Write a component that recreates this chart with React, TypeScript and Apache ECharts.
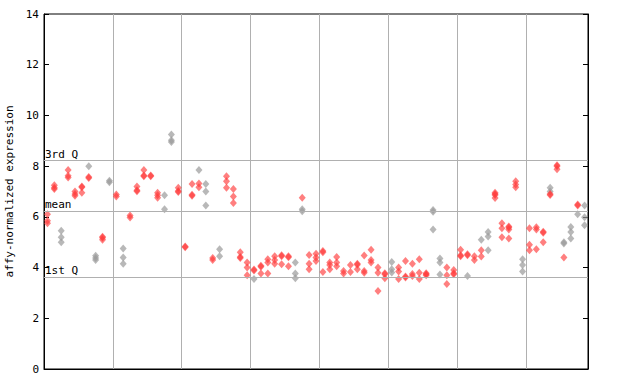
import React, { useEffect, useRef } from "react";
import * as echarts from "echarts";

// 79 samples (x categories), grouped 10 per gridline band
const sampleCount = 79;
const categories = Array.from({ length: sampleCount }, (_, i) => "S" + (i + 1));

// [sample index, expression] — red markers
const redPoints: [number, number][] = [
  [0, 6.1], [0, 5.85], [0, 5.75],
  [1, 7.25], [1, 7.15], [1, 7.1],
  [3, 7.85], [3, 7.62], [3, 7.55],
  [4, 7.0], [4, 6.9], [4, 6.83],
  [5, 7.2], [5, 7.17], [5, 6.95],
  [6, 7.57], [6, 7.53],
  [8, 5.22], [8, 5.18], [8, 5.1],
  [10, 6.88], [10, 6.8],
  [12, 6.05], [12, 5.97],
  [13, 7.2], [13, 7.05], [13, 7.01],
  [14, 7.85], [14, 7.63], [14, 7.6],
  [15, 7.63], [15, 7.6],
  [16, 6.95], [16, 6.85], [16, 6.75],
  [19, 7.15], [19, 7.02], [19, 6.98],
  [20, 4.83], [20, 4.8],
  [21, 7.3], [21, 6.87], [21, 6.83],
  [22, 7.32], [22, 7.17],
  [24, 4.38], [24, 4.3],
  [26, 7.6], [26, 7.4], [26, 7.15],
  [27, 7.1], [27, 6.8], [27, 6.55],
  [28, 4.6], [28, 4.42], [28, 4.38],
  [29, 4.2], [29, 4.0], [29, 3.7],
  [30, 3.92], [30, 3.88],
  [31, 4.07], [31, 4.03], [31, 3.77],
  [32, 4.33], [32, 4.2], [32, 3.77],
  [33, 4.45], [33, 4.3], [33, 4.15],
  [34, 4.49], [34, 4.45], [34, 4.13],
  [35, 4.45], [35, 4.41], [35, 4.05],
  [37, 6.75],
  [38, 4.5], [38, 4.15], [38, 3.93],
  [39, 4.55], [39, 4.4], [39, 4.26],
  [40, 4.65], [40, 4.6], [40, 3.83],
  [41, 4.2], [41, 4.1], [41, 3.93],
  [42, 4.42], [42, 4.2], [42, 4.05],
  [43, 3.86], [43, 3.77],
  [44, 4.1], [44, 3.83],
  [45, 4.15], [45, 4.11], [45, 3.93],
  [46, 4.48], [46, 3.86], [46, 3.8],
  [47, 4.7], [47, 4.3], [47, 4.2],
  [48, 4.0], [48, 3.8], [48, 3.08],
  [49, 3.78], [49, 3.74], [49, 3.58],
  [51, 4.0], [51, 3.85], [51, 3.55],
  [52, 4.26], [52, 3.65], [52, 3.61],
  [53, 4.15], [53, 3.75], [53, 3.67],
  [54, 4.33], [54, 3.8], [54, 3.55],
  [55, 3.78], [55, 3.74], [55, 3.7],
  [58, 4.0], [58, 3.7], [58, 3.35],
  [59, 3.9], [59, 3.78], [59, 3.74],
  [60, 4.7], [60, 4.49], [60, 4.45],
  [61, 4.53], [61, 4.49],
  [62, 4.45], [62, 4.3],
  [63, 4.68], [63, 4.44],
  [65, 6.95], [65, 6.9], [65, 6.86], [65, 6.74],
  [66, 5.75], [66, 5.55], [66, 5.2],
  [67, 5.62], [67, 5.58], [67, 5.5], [67, 5.15],
  [68, 7.4], [68, 7.28], [68, 7.17],
  [70, 5.55], [70, 4.9], [70, 4.68],
  [71, 5.59], [71, 5.5], [71, 4.72],
  [72, 5.41], [72, 5.37], [72, 5.0],
  [73, 6.9], [73, 6.86],
  [74, 8.04], [74, 8.0], [74, 7.88],
  [75, 4.4],
  [77, 6.49], [77, 6.45],
];

// [sample index, expression] — grey markers
const greyPoints: [number, number][] = [
  [2, 5.45], [2, 5.2], [2, 5.0],
  [6, 8.0],
  [7, 4.47], [7, 4.38], [7, 4.3],
  [9, 7.42], [9, 7.36],
  [11, 4.75], [11, 4.4], [11, 4.15],
  [17, 6.85], [17, 6.3],
  [18, 9.25], [18, 9.02], [18, 8.95],
  [22, 7.85],
  [23, 7.3], [23, 7.0], [23, 6.45],
  [25, 4.72], [25, 4.45],
  [30, 3.55],
  [36, 4.2], [36, 3.77], [36, 3.58],
  [37, 6.3], [37, 6.22],
  [50, 4.22], [50, 3.93], [50, 3.81],
  [56, 6.27], [56, 6.2], [56, 5.5],
  [57, 4.36], [57, 4.2], [57, 3.73],
  [61, 3.67],
  [63, 5.1],
  [64, 5.4], [64, 5.23], [64, 4.68],
  [69, 4.33], [69, 4.1], [69, 3.85],
  [73, 7.15], [73, 7.0],
  [75, 5.0], [75, 4.95],
  [76, 5.6], [76, 5.4], [76, 5.15],
  [77, 6.1],
  [78, 6.45], [78, 5.98], [78, 5.67],
];

const quartileLabels = ["3rd Q", "mean", "1st Q"];
const quartileValues = [8.22, 6.22, 3.62];

const yTicks = { min: 0, max: 14, interval: 2 };

export default function App() {
  const ref = useRef<HTMLDivElement>(null);
  useEffect(() => {
    document.body.style.margin = "0";
    if (!ref.current) return;
    const chart = echarts.init(ref.current, undefined, { renderer: "svg" });
    const mono = "DejaVu Sans Mono";
    chart.setOption({
      animation: false,
      backgroundColor: "#ffffff",
      grid: {
        left: 44,
        right: 52,
        top: 14,
        bottom: 15,
        containLabel: false,
        outerBoundsMode: "none",
        show: true,
        borderColor: "#000000",
        borderWidth: 1,
        backgroundColor: "transparent",
      },
      xAxis: {
        type: "category",
        data: categories,
        boundaryGap: true,
        axisLine: { show: true, lineStyle: { color: "#000" } },
        axisTick: { show: false },
        axisLabel: { show: false },
        splitLine: {
          show: true,
          interval: (i: number) => i > 0 && i % 10 === 0,
          lineStyle: { color: "#b0b0b0", width: 1 },
        },
      },
      yAxis: [
        {
          type: "value",
          ...yTicks,
          name: "affy-normalized expression",
          nameLocation: "middle",
          nameRotate: 90,
          nameGap: 28,
          nameTextStyle: { fontFamily: mono, fontSize: 11, color: "#000" },
          axisLine: { show: true, lineStyle: { color: "#000" } },
          axisTick: { show: true, inside: true, length: 5, lineStyle: { color: "#000" } },
          axisLabel: { fontFamily: mono, fontSize: 11, color: "#000", margin: 5 },
          splitLine: { show: false },
        },
        {
          type: "value",
          position: "right",
          ...yTicks,
          axisLine: { show: true, lineStyle: { color: "#000" } },
          axisTick: { show: true, inside: true, length: 5, lineStyle: { color: "#000" } },
          axisLabel: { show: false },
          splitLine: { show: false },
        },
      ],
      series: [
        {
          type: "scatter",
          name: "grey",
          data: greyPoints,
          symbol: "diamond",
          symbolSize: [7, 8],
          itemStyle: { color: "#9a9a9a", opacity: 0.7 },
          z: 3,
        },
        {
          type: "scatter",
          name: "red",
          data: redPoints,
          symbol: "diamond",
          symbolSize: [7, 8],
          itemStyle: { color: "#ff3a3a", opacity: 0.65 },
          z: 4,
          markLine: {
            silent: true,
            symbol: "none",
            lineStyle: { color: "#b0b0b0", width: 1, type: "solid" },
            label: {
              show: true,
              position: "insideStartTop",
              distance: [1, 1],
              fontFamily: mono,
              fontSize: 11,
              color: "#000",
              formatter: (p: any) => p.name,
            },
            data: quartileValues.map((v, i) => ({ yAxis: v, name: quartileLabels[i] })),
          },
        },
      ],
    });
    return () => chart.dispose();
  }, []);
  return <div ref={ref} style={{ width: 640, height: 384 }} />;
}
